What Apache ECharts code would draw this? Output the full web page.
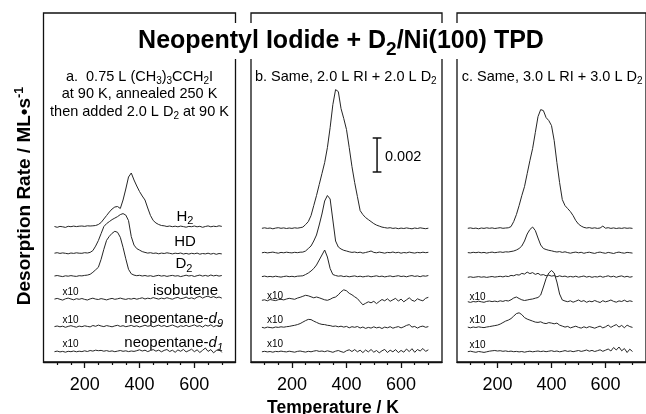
<!DOCTYPE html>
<html><head><meta charset="utf-8">
<script src="https://cdn.jsdelivr.net/npm/echarts@6.0.0/dist/echarts.min.js"></script>
<style>html,body{margin:0;padding:0;background:#fff}#c{width:646px;height:414px}</style>
</head><body><div id="c"></div>
<script>
// Temperature grid (K)
const T = [90,100,110,120,130,140,150,160,170,180,
 190,200,210,220,230,240,250,260,270,280,
 290,300,310,320,330,340,350,360,370,380,
 390,400,410,420,430,440,450,460,470,480,
 490,500,510,520,530,540,550,560,570,580,
 590,600,610,620,630,640,650,660,670,680,
 690,700];

const species = ['H2','HD','D2','isobutene','neopentane-d9','neopentane-d1'];
const majorTicks = [200,400,600];
const minorTicks = [100,150,250,300,350,450,500,550,650,700];

// Stacking offsets (arbitrary plot units; 34 units = 0.002 ML/s)
const offA = [135,108.4,85.7,62.4,35,10];
const offB = [133.4,109,85,61.7,34.4,10];
const offC = [133.4,109,84.4,60,34.4,10];

// Panel a signals
const aH2 = [0.5,-0.3,0.6,0.2,-0.4,0.7,0.3,0.9,0.4,0.8,
 1.0,0.6,1.2,1.0,1.2,1.5,2.5,4.5,8,11.5,
 15,18,20,20.5,18.5,27,38,50,54,47,
 41,35.5,31,27,19,11.5,6.5,4,2.5,1.5,
 1.2,0.5,1.0,0.3,0.8,0.2,0.9,0.4,-0.2,0.6,
 0.3,1.0,0.2,0.7,-0.3,0.5,1.1,0.2,0.8,0.4,
 1.2,0.6];
const aHD = [0.4,0.9,0.2,0.7,0.3,-0.2,0.6,0.2,0.8,0.4,
 0.3,0.9,0.6,1.2,3,7.5,13,20,27,30,
 32,34,35.5,37,39,40,38.5,33,17,8.5,
 5,3.5,2,1.2,0.5,0.9,0.2,0.6,-0.2,0.5,
 0.1,0.8,0.3,-0.3,0.4,0,0.6,-0.4,0.2,-0.5,
 0.3,-0.2,0.5,-0.6,0.1,-0.3,0.4,-0.5,0.2,-0.7,
 0.1,-0.3];
const aD2 = [0.3,0.8,0.2,-0.3,0.5,0.1,0.7,0.2,-0.1,0.6,
 0.4,0.9,1.2,2,4,6.5,9,17,27,36,
 40,43,45,44,39,29,17.5,7,2.5,1.2,
 0.6,1.0,0.3,0.8,0.1,0.6,-0.2,0.5,1.0,0.2,
 0.7,-0.1,0.5,0.9,0.2,0.6,-0.3,0.4,1.1,0.3,
 0.8,-0.2,0.6,1.2,0.2,0.9,0.1,1.3,0.4,1.0,
 0.2,0.8];
const aIso = [0.5,1.2,0.3,-0.5,0.8,1.5,0.6,-0.2,0.9,0.3,
 1.1,0.2,-0.4,0.7,1.4,0.5,0.1,1.0,0.4,-0.3,
 0.6,1.2,0.3,0.8,1.5,0.7,0.2,1.0,0.5,1.3,
 0.4,1.1,1.8,0.6,1.4,0.9,2.0,1.2,0.5,1.5,
 0.8,1.9,1.1,0.4,1.6,2.2,0.9,1.4,2.5,1.0,
 1.8,0.7,2.4,3.2,1.5,2.8,3.5,2.0,3.0,1.8,
 2.6,1.5];
const aD9 = [0.4,1.0,0.2,0.8,-0.3,0.6,1.3,0.5,-0.2,0.9,
 0.3,1.2,0.6,0.1,1.5,0.7,1.9,1.0,0.4,1.4,
 0.8,0.2,1.1,1.7,0.6,1.3,0.3,0.9,1.6,0.5,
 1.2,0.1,0.8,1.8,0.7,1.4,0.2,1.0,1.9,0.6,
 1.5,0.3,1.1,2.0,0.8,-0.2,1.3,0.5,1.7,0.4,
 1.2,2.1,0.6,1.4,-0.1,1.8,0.9,2.2,0.3,1.5,
 0.7,1.9];
const aD1 = [0.3,0.9,0.1,0.6,-0.2,0.7,0.3,1.0,0.2,0.8,
 0.4,1.2,0.5,1.5,0.9,1.8,1.3,1.6,0.8,1.4,
 0.6,1.1,0.3,0.9,1.5,0.7,1.2,0.4,1.0,0.6,
 1.3,2.2,1.0,1.8,0.4,1.5,2.4,0.8,1.9,0.2,
 1.6,2.5,0.5,1.8,-0.3,2.1,0.7,2.6,0.1,1.4,
 2.8,0.3,2.2,-0.5,1.7,4.0,0.6,2.4,-0.8,1.5,
 2.9,-0.4];

// Panel b signals
const bH2 = [0.3,0.8,0.2,0.6,-0.2,0.5,0.9,0.3,0.7,0.1,
 0.6,0.2,0.8,0.4,0.9,1.5,4,7,13,23,
 33,44,55,66,81,101,124,139,137,120,
 110,99,81,62,46,32,18,14,11,9,
 7,5,3.5,2.5,1.5,1,0.5,0.9,0.2,0.6,
 -0.1,0.5,0.1,0.7,0.2,-0.2,0.6,0.1,0.8,0.3,
 -0.1,0.4];
const bHD = [0.2,0.7,0.1,0.5,0.9,0.3,-0.2,0.6,0.2,0.8,
 0.4,0.1,0.7,0.3,0.8,0.9,2,4.5,7,12,
 18,28,39,52,57.5,54,33,12,6,4,
 2.7,2,1.2,0.6,1.0,0.3,0.8,-0.1,0.5,1.2,
 2.0,0.6,0.2,0.9,0.4,-0.2,0.6,0.3,1.0,0.2,
 0.7,-0.2,0.5,0.1,0.9,0.3,-0.1,0.6,0.2,0.8,
 0.3,0.7];
const bD2 = [0.4,0.9,0.2,0.6,0.1,0.8,0.3,-0.1,0.5,0.9,
 0.3,0.7,0.2,0.8,1.0,1.2,2.5,4,6,8.5,
 12,17,22,27,20,8.5,2.5,1.5,0.8,1.2,
 0.4,0.9,0.2,0.7,1.1,0.3,0.8,0.1,0.6,1.0,
 0.2,0.7,1.2,0.4,0.9,0.1,0.6,1.1,0.3,0.8,
 1.3,0.5,0.9,0.2,1.0,1.4,0.6,1.1,0.3,1.2,
 0.8,1.5];
const bIso = [0,0.5,-0.5,0.8,0.2,-0.3,0.6,1.0,0.4,1.3,
 2.0,1.5,1.0,2.2,3.0,4.0,5.0,4.5,3.5,2.5,
 3.3,2.5,1.5,0.5,0,1.0,2.5,3.3,5.5,8.5,
 10.5,9.5,7.0,5.5,3.5,1.7,-1.5,-4.5,-3,-1.5,
 -2.5,-1.0,-3.3,-1.2,0.8,-0.5,1.5,-1.0,0.5,2.0,
 -0.8,1.2,-1.5,0.5,2.5,0,-1.0,1.5,0.3,-0.5,
 2.0,3.0];
const bD9 = [0.3,-0.4,0.5,0.1,-0.3,0.6,0.2,0.8,0.4,0.9,
 1.2,1.8,2.3,3.0,4.0,5.5,7,8.2,8,6.5,
 5.2,4.0,3.2,3.0,2.3,2.0,1.2,1.6,0.8,1.4,
 0.5,1.2,-0.2,0.9,0.3,1.1,-0.4,0.6,-0.8,0.2,
 -0.5,0.8,-0.3,0.4,-0.9,0.5,-0.2,0.9,-0.6,0.3,
 1.0,-0.3,0.8,2.2,3.0,0.5,1.2,-0.5,0.9,1.5,
 0.3,1.0];
const bD1 = [0.2,0.7,0.1,0.5,-0.2,0.6,0.3,0.9,0.4,0.1,
 0.8,0.3,-0.2,0.6,1.0,0.4,-0.1,0.7,0.2,0.9,
 1.4,0.6,1.0,0.3,1.2,0.5,-0.3,0.8,1.5,0.4,
 -0.4,1.3,2.2,0.5,2.4,0.2,1.8,-0.6,2.0,0.1,
 2.5,-0.2,1.5,-0.8,1.2,2.6,-0.5,1.8,0.2,2.4,
 -0.6,1.6,-0.2,3.0,0.4,3.3,-0.3,2.5,1.0,3.5,
 0.6,2.2];

// Panel c signals
const cH2 = [0.3,0.7,0.1,0.5,-0.2,0.6,0.2,0.8,0.3,0.7,
 0.1,0.5,0.9,0.3,0.6,0.8,2,7,14,23,
 33,42,55,68,80,96,112,119,118,111,
 108,103,88,66,46,29,23,20,17,13,
 8,4.5,2.5,1.2,0.6,1.0,0.3,0.8,0.2,0.6,
 2.5,0.4,0.9,0.2,0.7,0.1,0.6,0.2,0.8,0.3,
 0.6,0.2];
const cHD = [0.4,0.1,0.7,0.3,0.8,0.2,0.6,-0.1,0.5,0.9,
 0.3,0.7,1.1,0.6,1.2,1.0,1.5,2,3,4.5,
 7,12,19,23.5,26,22.5,15,8,4.5,3.5,
 2.7,2.2,1.5,1.0,1.4,0.6,1.2,0.4,-0.2,0.5,
 0.9,0.2,0.7,-0.3,0.4,0.8,0.1,-0.4,0.5,0.9,
 0.2,-0.3,0.6,0.1,-0.5,0.4,0.9,0.2,-0.2,0.6,
 0.3,-0.1];
const cD2 = [0.3,0.8,0.2,0.6,1.0,0.4,0.8,0.2,0.7,1.1,
 0.5,0.9,1.3,0.7,1.5,1.0,2.2,1.8,3.0,2.5,
 4.2,3.5,5.5,4.0,5.0,3.2,4.3,2.5,3.0,1.8,
 2.5,1.5,2.0,0.8,1.8,1.0,1.5,0.5,1.2,0.6,
 1.4,0.4,1.0,1.6,0.5,1.2,0.3,1.0,0.6,1.5,
 0.4,1.1,1.8,0.7,1.4,0.3,1.2,1.7,0.6,1.3,
 0.4,1.0];
const cIso = [0.3,-0.4,0.5,0.1,0.8,0.2,-0.3,0.6,1.0,0.4,
 0.9,0.3,1.2,0.6,1.5,1.0,2.2,4.0,5.0,3.5,
 2.2,1.5,2.0,2.6,3.0,3.8,4.5,7,15,23.5,
 29,31.5,29,20,8,2,1.0,0.3,1.2,-0.2,
 0.8,2.0,0.5,1.4,-0.3,0.9,0.2,1.5,0.4,-0.5,
 1.3,0.2,0.9,2.0,0.6,-0.2,1.1,0.5,1.8,0.3,
 1.2,0.5];
const cD9 = [0.5,-0.2,0.6,0.1,0.8,0.3,0.0,0.6,1.0,1.5,
 2.0,2.5,3.5,5,6.5,7.5,9,11.5,14,14.8,
 13,10,8.5,7.5,6.5,5.5,5.2,5.8,4.5,4.0,
 5.0,4.5,3.8,4.5,2.5,1.5,0.5,1.2,-0.3,0.6,
 1.4,0.2,-0.5,0.8,-0.2,1.0,0.3,-0.6,0.5,1.5,
 -0.3,0.8,2.5,0.2,1.8,3.0,0.5,2.2,-0.2,2.5,
 1.0,0.2];
const cD1 = [0.3,0.8,0.2,-0.3,0.5,0.1,-0.4,0.2,0.8,1.2,
 1.5,1.0,1.3,0.7,1.1,0.5,0.9,0.3,0.6,0.1,
 0.5,-0.2,0.4,0.8,0.2,0.6,1.0,0.4,0.9,0.3,
 0.8,1.3,0.5,1.0,0.2,0.7,1.4,0.6,1.1,0.3,
 0.9,1.5,0.6,1.2,2.0,0.8,1.6,0.5,1.3,2.2,
 0.7,1.8,3.0,1.0,4.5,2.0,5.0,1.2,3.5,-0.5,
 2.8,0.5];

// Scale bar (panel b): 34 plot units = 0.002 ML/s
const scaleBarT = 512, scaleBarBase = 190, scaleBarLen = 34, scaleBarCap = 16;
const scaleBarLabel = '0.002';

const FF = '"Liberation Sans", Arial, Helvetica, sans-serif';
const panels = [
  {sig:[aH2,aHD,aD2,aIso,aD9,aD1], off:offA, left:43.5, width:192},
  {sig:[bH2,bHD,bD2,bIso,bD9,bD1], off:offB, left:251, width:191},
  {sig:[cH2,cHD,cD2,cIso,cD9,cD1], off:offC, left:457, width:191}
];

const grid = [], xAxis = [], yAxis = [], series = [];
panels.forEach((p, k) => {
  grid.push({left:p.left, top:13, width:p.width, height:349, show:true,
    borderColor:'#111', borderWidth:1.3, backgroundColor:'transparent', containLabel:false});
  const base = {type:'value', gridIndex:k, position:'bottom', min:50, max:750, splitLine:{show:false}};
  xAxis.push(Object.assign({}, base, {
    axisLine:{show:true, lineStyle:{color:'#111', width:1.3}},
    axisTick:{show:true, customValues:minorTicks, length:3, inside:false, lineStyle:{color:'#111', width:1.2}},
    axisLabel:{show:false}
  }));
  xAxis.push(Object.assign({}, base, {
    axisLine:{show:false},
    axisTick:{show:true, customValues:majorTicks, length:6, inside:false, lineStyle:{color:'#111', width:1.3}},
    axisLabel:{show:true, customValues:majorTicks, fontSize:18, fontFamily:FF, color:'#000', margin:14}
  }));
  yAxis.push({type:'value', gridIndex:k, min:0, max:349, show:false, splitLine:{show:false}});
  p.sig.forEach((s, j) => {
    series.push({type:'line', name:species[j], xAxisIndex:k*2, yAxisIndex:k,
      data:T.map((t, i) => [t, p.off[j] + s[i]]),
      showSymbol:false, symbol:'none', smooth:false, silent:true, animation:false,
      lineStyle:{width:1, color:'#262626'}});
  });
});
// scale bar
const sb = [
  [[scaleBarT, scaleBarBase],[scaleBarT, scaleBarBase+scaleBarLen]],
  [[scaleBarT-scaleBarCap, scaleBarBase],[scaleBarT+scaleBarCap, scaleBarBase]],
  [[scaleBarT-scaleBarCap, scaleBarBase+scaleBarLen],[scaleBarT+scaleBarCap, scaleBarBase+scaleBarLen]]
];
sb.forEach(d => series.push({type:'line', xAxisIndex:2, yAxisIndex:1, data:d, showSymbol:false,
  symbol:'none', silent:true, animation:false, lineStyle:{width:1.5, color:'#111'}}));

function txt(x, y, text, opts) {
  return Object.assign({type:'text', x:x, y:y, silent:true, style:Object.assign({
    text:text, fill:'#000', fontFamily:FF, fontSize:14.5,
    align:'left', verticalAlign:'middle', textAlign:'left', textVerticalAlign:'middle'
  }, opts.style||{})}, opts.el||{});
}
const R14 = {m:{fontSize:14.5, lineHeight:20, fontFamily:FF, fill:'#000'},
             s:{fontSize:10, lineHeight:10, verticalAlign:'bottom', fontFamily:FF, fill:'#000'}};
const R15 = {m:{fontSize:15, lineHeight:20, fontFamily:FF, fill:'#000'},
             s:{fontSize:11, lineHeight:11, verticalAlign:'bottom', fontFamily:FF, fill:'#000'},
             i:{fontSize:15, lineHeight:20, fontStyle:'italic', fontFamily:FF, fill:'#000'},
             si:{fontSize:11, lineHeight:11, verticalAlign:'bottom', fontStyle:'italic', fontFamily:FF, fill:'#000'}};
function c(a){return {align:a, textAlign:a};}

const graphic = [
  txt(341, 23, '{b|Neopentyl Iodide + D}{s|2}{b|/Ni(100) TPD}', {el:{z:100}, style:Object.assign(c('center'), {
    verticalAlign:'top', textVerticalAlign:'top', backgroundColor:'#fff', padding:[0,4,0,4],
    rich:{b:{fontSize:25, fontWeight:'bold', lineHeight:36, fontFamily:FF, fill:'#000'},
          s:{fontSize:19, fontWeight:'bold', lineHeight:19, verticalAlign:'bottom', fontFamily:FF, fill:'#000'}}})}),
  txt(25, 196, '{m|Desorption Rate / ML\u2022s}{p|-1}', {el:{rotation:Math.PI/2}, style:Object.assign(c('center'), {
    rich:{m:{fontSize:19, fontWeight:'bold', lineHeight:24, fontFamily:FF, fill:'#000'},
          p:{fontSize:12.5, fontWeight:'bold', lineHeight:12, verticalAlign:'top', fontFamily:FF, fill:'#000'}}})}),
  txt(333, 408, 'Temperature / K', {style:Object.assign(c('center'), {fontSize:17.5, fontWeight:'bold'})}),
  txt(139.5, 76.7, '{m|a.  0.75 L (CH}{s|3}{m|)}{s|3}{m|CCH}{s|2}{m|I}', {style:Object.assign(c('center'), {rich:R14})}),
  txt(139.5, 94.3, '{m|at 90 K, annealed 250 K}', {style:Object.assign(c('center'), {rich:R14})}),
  txt(139.5, 111.7, '{m|then added 2.0 L D}{s|2}{m| at 90 K}', {style:Object.assign(c('center'), {rich:R14})}),
  txt(255, 76.7, '{m|b. Same, 2.0 L RI + 2.0 L D}{s|2}', {style:{rich:R14}}),
  txt(461.7, 76.7, '{m|c. Same, 3.0 L RI + 3.0 L D}{s|2}', {style:{rich:R14}}),
  txt(185, 216.7, '{m|H}{s|2}', {style:Object.assign(c('center'), {rich:R15})}),
  txt(185, 241.7, '{m|HD}', {style:Object.assign(c('center'), {rich:R15})}),
  txt(184, 264, '{m|D}{s|2}', {style:Object.assign(c('center'), {rich:R15})}),
  txt(218, 290.7, '{m|isobutene}', {style:Object.assign(c('right'), {rich:R15})}),
  txt(223, 319.3, '{m|neopentane-}{i|d}{si|9}', {style:Object.assign(c('right'), {rich:R15})}),
  txt(223, 343, '{m|neopentane-}{i|d}{si|1}', {style:Object.assign(c('right'), {rich:R15})}),
  txt(385, 156.7, scaleBarLabel, {style:{fontSize:14.5}})
];
const x10pos = [[70.5,292.7],[70.5,320],[70.5,344],[275,296],[275,320],[275,344],[477.5,297.3],[477.5,320],[477.5,345]];
x10pos.forEach(p => graphic.push(txt(p[0], p[1], 'x10', {style:Object.assign(c('center'), {fontSize:10})})));

const chart = echarts.init(document.getElementById('c'), null, {renderer:'canvas'});
chart.setOption({animation:false, backgroundColor:'#fff', grid, xAxis, yAxis, series, graphic});
</script></body></html>
